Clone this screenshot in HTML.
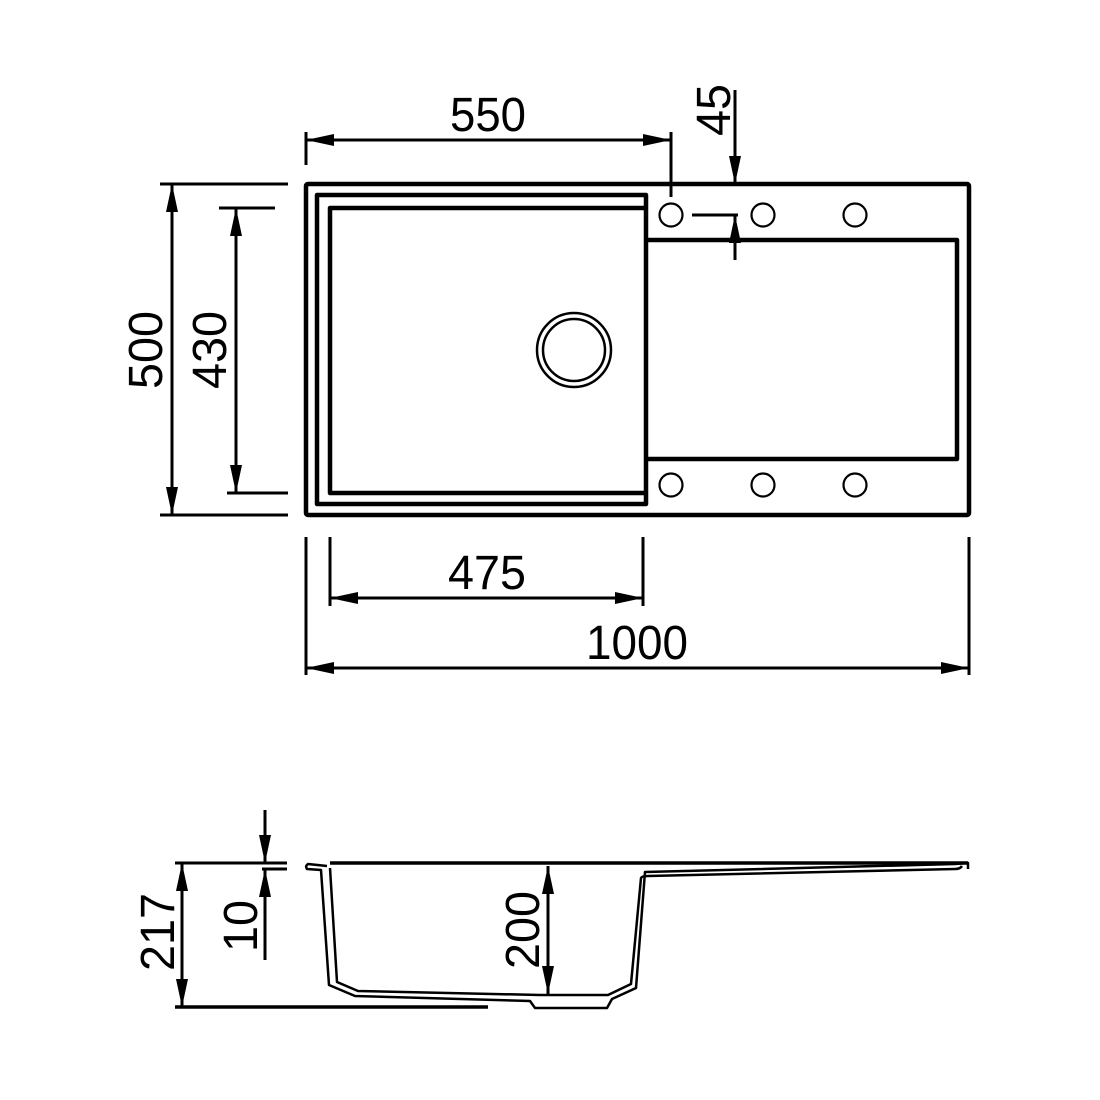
<!DOCTYPE html>
<html><head><meta charset="utf-8"><style>html,body{margin:0;padding:0;background:#fff}svg{display:block}</style></head>
<body>
<svg width="1100" height="1100" viewBox="0 0 1100 1100" xmlns="http://www.w3.org/2000/svg">
<defs>
<marker id="a" viewBox="0 0 28 12" refX="28" refY="6" markerWidth="28" markerHeight="12" markerUnits="userSpaceOnUse" orient="auto-start-reverse"><path d="M0,0 L28,6 L0,12 Z" fill="#000"/></marker>
</defs>
<g fill="none" stroke="#000" stroke-linejoin="round">
<rect x="306" y="184" width="663" height="331" stroke-width="4.5" rx="2"/>
<rect x="317" y="195" width="329" height="309" stroke-width="4.5"/>
<path d="M644,208 L330,208 L330,493 L644,493" stroke-width="4.5"/>
<path d="M646,240 L957,240 L957,459 L646,459" stroke-width="4.5"/>
<circle cx="574" cy="350" r="37" stroke-width="2.5"/>
<circle cx="574" cy="350" r="31" stroke-width="2.5"/>
<g stroke-width="2.2">
<circle cx="671" cy="215" r="11.5"/><circle cx="763" cy="215" r="11.5"/><circle cx="855" cy="215" r="11.5"/>
<circle cx="671" cy="485" r="11.5"/><circle cx="763" cy="485" r="11.5"/><circle cx="855" cy="485" r="11.5"/>
</g>
<g stroke-width="3">
<line x1="306" y1="132" x2="306" y2="165"/>
<line x1="671" y1="132" x2="671" y2="197"/>
<line x1="306" y1="140" x2="671" y2="140" marker-start="url(#a)" marker-end="url(#a)"/>
<line x1="735" y1="90" x2="735" y2="184" marker-end="url(#a)"/>
<line x1="735" y1="260" x2="735" y2="215" marker-end="url(#a)"/>
<line x1="692" y1="215" x2="738" y2="215"/>
<line x1="160" y1="184" x2="288" y2="184"/>
<line x1="160" y1="515" x2="288" y2="515"/>
<line x1="172" y1="184" x2="172" y2="515" marker-start="url(#a)" marker-end="url(#a)"/>
<line x1="219" y1="208" x2="275" y2="208"/>
<line x1="227" y1="493" x2="288" y2="493"/>
<line x1="236" y1="208" x2="236" y2="493" marker-start="url(#a)" marker-end="url(#a)"/>
<line x1="330" y1="537" x2="330" y2="606"/>
<line x1="643" y1="537" x2="643" y2="606"/>
<line x1="330" y1="598" x2="643" y2="598" marker-start="url(#a)" marker-end="url(#a)"/>
<line x1="306" y1="537" x2="306" y2="675"/>
<line x1="969" y1="537" x2="969" y2="675"/>
<line x1="306" y1="668" x2="969" y2="668" marker-start="url(#a)" marker-end="url(#a)"/>
<line x1="175" y1="863" x2="287" y2="863"/>
<line x1="262" y1="869" x2="287" y2="869"/>
<line x1="175" y1="1007" x2="488" y2="1007" stroke-width="3.5"/>
<line x1="330" y1="863" x2="968" y2="863" stroke-width="3.5"/>
<line x1="182" y1="863" x2="182" y2="1007" marker-start="url(#a)" marker-end="url(#a)"/>
<line x1="265" y1="810" x2="265" y2="863" marker-end="url(#a)"/>
<line x1="265" y1="960" x2="265" y2="869" marker-end="url(#a)"/>
<line x1="548" y1="866" x2="548" y2="994" marker-start="url(#a)" marker-end="url(#a)"/>
</g>
<g stroke-width="2.5">
<path d="M327,866 L308,864 Q305,866 307,869 L321,870 L329,985 L355,996 L530,1001 L535,1008 L607,1008 L612,999 L636,988 L645,872 L955,864 L968,863 L968,869"/>
<path d="M330,868 L337,982 L358,991 L540,995 L608,995 L631,984 L641,878 Q642,876 648,876 L955,869 Q960,869 962,866"/>
</g>
</g>
<g font-family="Liberation Sans, sans-serif" font-size="48" fill="#000">
<text x="488" y="131" text-anchor="middle" textLength="76" lengthAdjust="spacingAndGlyphs">550</text>
<text x="637" y="659" text-anchor="middle" textLength="102" lengthAdjust="spacingAndGlyphs">1000</text>
<text x="487" y="589" text-anchor="middle" textLength="78" lengthAdjust="spacingAndGlyphs">475</text>
<text transform="translate(730,110) rotate(-90)" text-anchor="middle" textLength="52" lengthAdjust="spacingAndGlyphs">45</text>
<text transform="translate(162,350) rotate(-90)" text-anchor="middle" textLength="78" lengthAdjust="spacingAndGlyphs">500</text>
<text transform="translate(226,350) rotate(-90)" text-anchor="middle" textLength="78" lengthAdjust="spacingAndGlyphs">430</text>
<text transform="translate(174,932) rotate(-90)" text-anchor="middle" textLength="78" lengthAdjust="spacingAndGlyphs">217</text>
<text transform="translate(257,926) rotate(-90)" text-anchor="middle" textLength="52" lengthAdjust="spacingAndGlyphs">10</text>
<text transform="translate(539,930) rotate(-90)" text-anchor="middle" textLength="78" lengthAdjust="spacingAndGlyphs">200</text>
</g>
</svg>
</body></html>
